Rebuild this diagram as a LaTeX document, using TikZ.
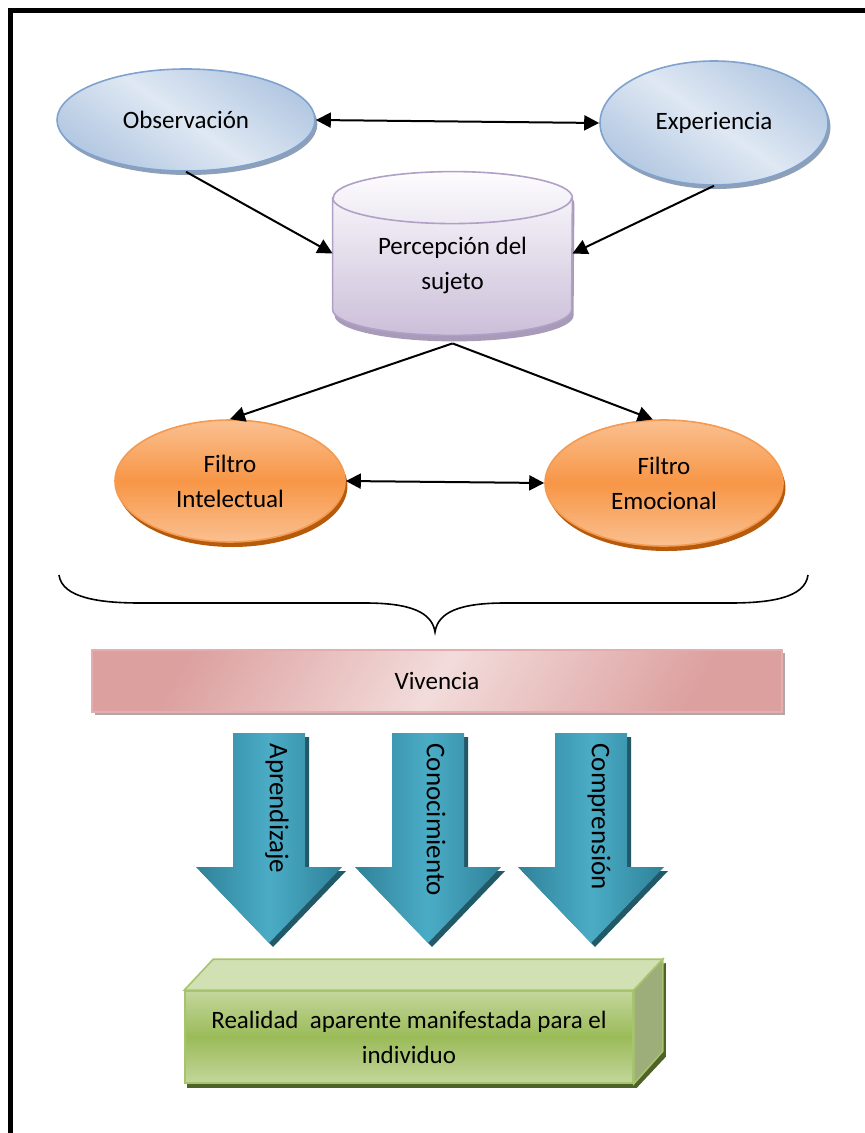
\documentclass[tikz,border=0pt]{standalone}
\usepackage{fontspec}
\setmainfont{Carlito}
\usepackage{tikz}
\usetikzlibrary{shapes.geometric}
\usetikzlibrary{arrows.meta}
\usetikzlibrary{shadows}

\definecolor{bluelight}{HTML}{DFE8F3}
\definecolor{bluedark}{HTML}{B3C8E2}
\definecolor{blueline}{HTML}{7FA2CF}
\definecolor{blueshadow}{HTML}{8E9FB6}
\definecolor{orangelight}{HTML}{FAC090}
\definecolor{orangemid}{HTML}{F79646}
\definecolor{orangeline}{HTML}{F59A50}
\definecolor{orangeshadow}{HTML}{B65A0C}
\definecolor{lavlight}{HTML}{FDFCFE}
\definecolor{lavdark}{HTML}{CBBFD9}
\definecolor{lavline}{HTML}{B1A0C6}
\definecolor{lavshadow}{HTML}{A89AB9}
\definecolor{pinklight}{HTML}{F2DCDB}
\definecolor{pinkdark}{HTML}{DCA09F}
\definecolor{pinkline}{HTML}{E3AEAD}
\definecolor{pinkshadow}{HTML}{B2A6A6}
\definecolor{tealmid}{HTML}{4BACC6}
\definecolor{tealdark}{HTML}{2F8299}
\definecolor{tealshadow}{HTML}{215968}
\definecolor{greenmid}{HTML}{9BBB59}
\definecolor{greenlight}{HTML}{C3D69B}
\definecolor{greentop}{HTML}{D2E1B3}
\definecolor{greenside}{HTML}{9DAE7B}
\definecolor{greenline}{HTML}{A6C46B}
\definecolor{greenshadow}{HTML}{4F6228}

\pgfdeclarelayer{background}
\pgfsetlayers{background,main}

\begin{document}
\begin{tikzpicture}[
        x=0.5pt, y=-0.5pt,
        every node/.style={font=\fontsize{12.5}{17.5}\selectfont},
        >={Triangle[length=7.5pt, width=7.5pt]},
        conn/.style={line width=1pt, <->}
        ]
        \tikzstyle{blueoval} = [ellipse, inner sep=0, draw=blueline, line width=0.8pt,
            top color=bluedark, bottom color=bluedark, middle color=bluelight, shading angle=-35,
            drop shadow={shadow xshift=1.2pt, shadow yshift=-2pt, fill=blueshadow, opacity=1}];
        \tikzstyle{filtro} = [ellipse, inner sep=0, align=center, draw=orangeline, line width=0.8pt,
            top color=orangelight, bottom color=orangelight, middle color=orangemid,
            drop shadow={shadow xshift=1.2pt, shadow yshift=-2.5pt, fill=orangeshadow, opacity=1}];
        \tikzstyle{cyl} = [top color=lavlight, bottom color=lavdark, draw=lavline, line width=0.8pt,
            drop shadow={shadow xshift=1pt, shadow yshift=-3pt, fill=lavshadow, opacity=1}];
        \tikzstyle{vivbox} = [rectangle, inner sep=0, draw=pinkline, line width=0.8pt,
            left color=pinkdark, right color=pinkdark, middle color=pinklight, shading angle=60,
            drop shadow={shadow xshift=1.5pt, shadow yshift=-1.5pt, fill=pinkshadow, opacity=1}];
        \tikzstyle{bajada} = [left color=tealdark, right color=tealdark, middle color=tealmid,
            drop shadow={shadow xshift=2pt, shadow yshift=-2pt, fill=tealshadow, opacity=1}];
        \tikzstyle{cajafront} = [rectangle, inner sep=0, align=center, draw=greenline, line width=0.8pt,
            top color=greenlight, bottom color=greenlight, middle color=greenmid];

        % frame
        \useasboundingbox (0,0) rectangle (864,1133);
        \draw[line width=2.2pt] (10.5,1140) -- (10.5,10.5) -- (870,10.5);

        % top row
        \node[blueoval, minimum width=129pt, minimum height=51pt] (obs) at (186,120) {Observación};
        \node[blueoval, minimum width=114pt, minimum height=62pt] (exp) at (714,123) {Experiencia};

        % cylinder
        \node[minimum width=119.5pt, minimum height=81.5pt, inner sep=0] (perc) at (452.5,253.5) {};
        \path[cyl] ([yshift=-13pt]perc.north west) -- ([yshift=13pt]perc.south west)
            arc[start angle=180, end angle=360, x radius=59.75pt, y radius=13pt]
            -- ([yshift=-13pt]perc.north east)
            arc[start angle=0, end angle=180, x radius=59.75pt, y radius=13pt] -- cycle;
        \draw[lavline, line width=0.8pt] ([yshift=-13pt]perc.north west)
            arc[start angle=180, end angle=360, x radius=59.75pt, y radius=13pt];
        \node[align=center] (perctxt) at (452.5,265) {Percepción del\\sujeto};

        % filters
        \node[filtro, minimum width=115pt, minimum height=61pt] (fint) at (230,481) {Filtro\\Intelectual};
        \node[filtro, minimum width=119pt, minimum height=63pt] (femo) at (664,483) {Filtro\\Emocional};

        \draw[conn] (obs.east) -- (exp.west);
        \draw[conn, <-] (perc.west) -- (obs.south);
        \draw[conn, <-] (perc.east) -- (exp.south);
        \coordinate (percbot) at ([yshift=-4pt]perc.south);
        \draw[conn, -] (percbot) edge[->] (fint.north) edge[->] (femo.100);
        \draw[conn] (fint.east) -- (femo.west);

        % brace
        \draw[line width=0.8pt] (59,575) .. controls (62,598) and (100,603) .. (140,603) -- (365,603)
            .. controls (410,603) and (432,612) .. (435,632)
            .. controls (438,612) and (460,603) .. (505,603) -- (730,603)
            .. controls (770,603) and (805,598) .. (808,575);

        \node[vivbox, minimum width=345pt, minimum height=31pt] (viv) at (437,681) {Vivencia};

        % down arrows
        \foreach \cx/\word/\nm in {269/Aprendizaje/apr, 428/Conocimiento/con, 591/Comprensión/com} {
            \path[bajada] (\cx-36,733) -- (\cx+36,733) -- (\cx+36,867) -- (\cx+73,867)
                -- (\cx,943) -- (\cx-73,867) -- (\cx-36,867) -- cycle;
            \node[rotate=-90, anchor=west, inner sep=0, font=\fontsize{13.5}{16}\selectfont]
                (\nm) at (\cx+8,743) {\word};
        }

        % 3d box
        \node[cajafront, minimum width=224pt, minimum height=46pt] (real) at (409,1037)
            {Realidad\ \ aparente manifestada para el\\individuo};
        \path[fill=greentop, draw=greenline, line width=0.8pt] (real.north west) -- ++(29,-31)
            -- ([shift={(29,-31)}]real.north east) -- (real.north east) -- cycle;
        \path[fill=greenside, draw=greenline, line width=0.8pt] (real.north east) -- ++(29,-31)
            -- ++(0,92) -- (real.south east) -- cycle;
        \begin{pgfonlayer}{background}
            \fill[greenshadow] ([shift={(3,4)}]real.north west) -- ([shift={(3,4)}]real.south west)
                -- ([shift={(3,4)}]real.south east) -- ([shift={(32,-27)}]real.south east)
                -- ([shift={(32,-27)}]real.north east) -- cycle;
        \end{pgfonlayer}
\end{tikzpicture}
\end{document}
